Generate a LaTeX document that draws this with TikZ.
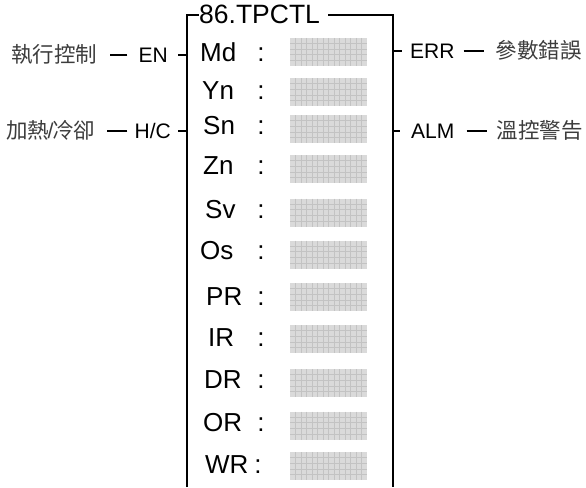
\documentclass[tikz,border=0pt]{standalone}
\usepackage{fontspec}
\setmainfont{Liberation Sans}
\newfontfamily\cjk{Noto Sans CJK TC}
\definecolor{boxfill}{RGB}{218,218,218}
\definecolor{gridcol}{RGB}{195,195,195}
\definecolor{cjkcol}{RGB}{60,60,60}
\begin{document}
\begin{tikzpicture}[x=1pt,y=-1pt,
  frame/.style={line width=2pt},
  wire/.style={line width=1.6pt},
  pin/.style={inner sep=0pt, anchor=west, font=\fontsize{26}{26}\selectfont, text height=18.6pt, text depth=0pt},
  sig/.style={inner sep=0pt, font=\fontsize{21}{21}\selectfont, text height=15pt, text depth=0pt},
  cjklab/.style={inner sep=0pt, font=\cjk\fontsize{21.5}{21.5}\selectfont, text=cjkcol, text height=18pt, text depth=2.2pt},
  gridline/.style={draw=gridcol, line width=0.6pt},
  gridbox/.style={fill=boxfill, minimum width=77pt, minimum height=28pt, inner sep=0pt,
    path picture={
      \foreach \i in {1,...,13}
        \draw[gridline] ([xshift=\i*5.5pt]path picture bounding box.north west) -- ([xshift=\i*5.5pt]path picture bounding box.south west);
      \foreach \j in {1,...,4}
        \draw[gridline] ([yshift=-\j*5.6pt]path picture bounding box.north west) -- ([yshift=-\j*5.6pt]path picture bounding box.north east);
    }}
]
\useasboundingbox (0,0) rectangle (586,487);

% frame corners
\coordinate (tl) at (187,15);
\coordinate (tr) at (393,15);
\coordinate (bl) at (187,487);
\coordinate (br) at (393,487);

% title
\node[inner sep=0pt, anchor=west, font=\fontsize{26.5}{26.5}\selectfont, text height=19pt, text depth=0pt] (title) at (199,14) {86.TPCTL};
\draw[frame] (bl) -- (tl) -- (title.west |- tl);
\draw[frame] ([xshift=8pt]title.east |- tr) -- (tr) -- (br);

% pins
\foreach \nm/\lx/\ty/\by/\cx in {Md/200/52/52/261, Yn/202/90/92/261, Sn/203/125.5/129/261,
  Zn/203/165/169/261, Sv/205/209/212.5/261, Os/200/250/254.5/261, PR/206/296/297/261,
  IR/208/337/339/261, DR/204/379/383/261, OR/203/422/425.5/261, WR/205/464/466/258} {
  \node[pin] (p\nm) at (\lx,\ty) {\nm};
  \node[pin, anchor=center] (c\nm) at (\cx,\ty) {:};
  \node[gridbox] (g\nm) at (328.5,\by) {};
}

% left inputs
\node[sig, anchor=east] (en) at (168,55) {EN};
\node[cjklab, anchor=west] (exec) at (11,55) {執行控制};
\draw[wire] (en.east -| tl) -- ([xshift=10pt]en.east);
\draw[wire] ([xshift=-11pt]en.west) -- ([xshift=-28pt]en.west);

\node[sig, anchor=east] (hc) at (171,131) {H/C};
\node[cjklab, anchor=west] (heat) at (6,131) {加熱\kern-1.5pt{\rmfamily/}\kern-1.5pt冷卻};
\draw[wire] (hc.east -| tl) -- ([xshift=7pt]hc.east);
\draw[wire] ([xshift=-7pt]hc.west) -- ([xshift=-27pt]hc.west);

% right outputs
\node[sig, anchor=west] (err) at (410,51) {ERR};
\node[cjklab, anchor=east] (perr) at (582,51) {參數錯誤};
\draw[wire] (err.west -| tr) -- ([xshift=-8pt]err.west);
\draw[wire] ([xshift=9pt]err.east) -- ([xshift=29pt]err.east);

\node[sig, anchor=west] (alm) at (411,131) {ALM};
\node[cjklab, anchor=east] (walm) at (583,131) {溫控警告};
\draw[wire] (alm.west -| tr) -- ([xshift=-11pt]alm.west);
\draw[wire] ([xshift=12pt]alm.east) -- ([xshift=32pt]alm.east);
\end{tikzpicture}
\end{document}
